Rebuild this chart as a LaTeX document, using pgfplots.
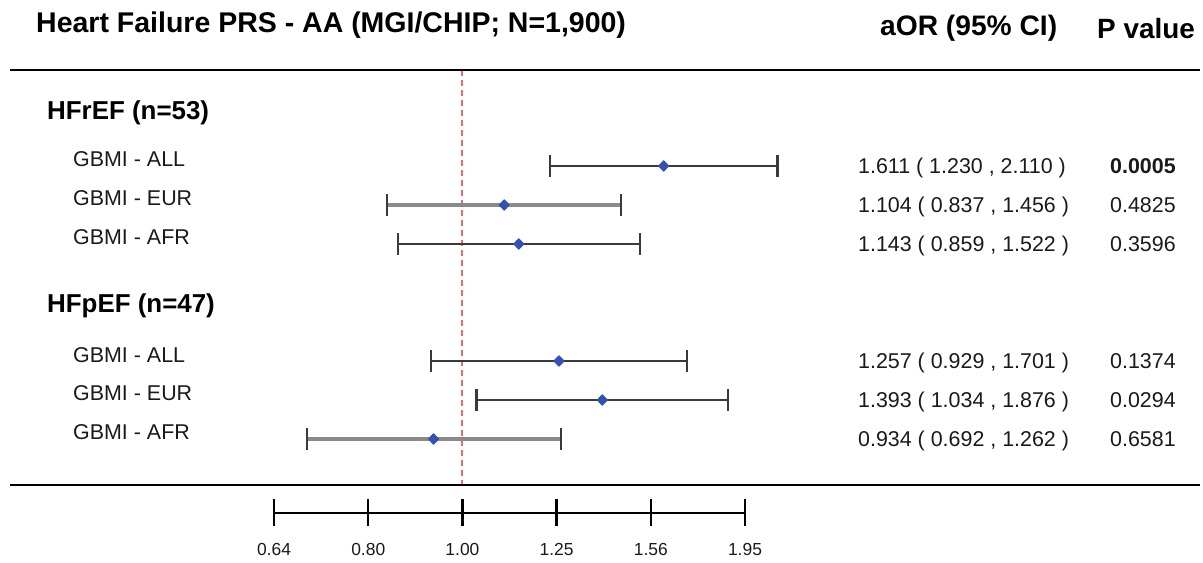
\documentclass[border=0pt]{standalone}
\usepackage{fontspec}
\setmainfont{Liberation Sans}
\usepackage{graphicx}
\usepackage{pgfplots}
\pgfplotsset{compat=1.18}
\definecolor{ptblue}{HTML}{3450B0}
\definecolor{cidark}{HTML}{3A3A3A}
\definecolor{cigray}{HTML}{8A8A8A}
\definecolor{refred}{HTML}{EE6A6A}
\definecolor{txt}{HTML}{1A1A1A}
\begin{document}
\begin{tikzpicture}[x=1bp,y=1bp]
\useasboundingbox (0,0) rectangle (1203,563);
\begin{axis}[at={(0,0)}, anchor=south west, scale only axis,
  width=1203bp, height=563bp, xmode=log, xmin=0.3344, xmax=5.781,
  ymin=0, ymax=563, hide axis, clip=false]
\addplot[refred, line width=2bp, dash pattern=on 6bp off 4bp] coordinates {(1,493) (1,78)};
% HFrEF
\addplot[cidark, line width=1.8bp, mark=|, mark size=11bp, mark options={solid, line width=2.2bp, draw=cidark}] coordinates {(1.230,397) (2.110,397)};
\addplot[cigray, line width=3.4bp, mark=|, mark size=11bp, mark options={solid, line width=2.2bp, draw=cidark}] coordinates {(0.837,358) (1.456,358)};
\addplot[cidark, line width=1.8bp, mark=|, mark size=11bp, mark options={solid, line width=2.2bp, draw=cidark}] coordinates {(0.859,319) (1.522,319)};
% HFpEF
\addplot[cidark, line width=2bp, mark=|, mark size=11bp, mark options={solid, line width=2.2bp, draw=cidark}] coordinates {(0.929,202) (1.701,202)};
\addplot[cidark, line width=2bp, mark=|, mark size=11bp, mark options={solid, line width=2.2bp, draw=cidark}] coordinates {(1.034,163) (1.876,163)};
\addplot[cigray, line width=3.4bp, mark=|, mark size=11bp, mark options={solid, line width=2.2bp, draw=cidark}] coordinates {(0.692,124) (1.262,124)};
% point estimates
\addplot[only marks, mark=diamond*, mark size=5.2bp, mark options={fill=ptblue, draw=ptblue, xscale=1.3, line join=round, line width=1bp}] coordinates {(1.611,397) (1.104,358) (1.143,319) (1.257,202) (1.393,163) (0.934,124)};
\end{axis}

\begin{axis}[at={(274bp,50bp)}, anchor=south west, scale only axis,
  width=471bp, height=10bp, xmode=log, xmin=0.64, xmax=1.953125,
  ymin=0, ymax=1, axis x line=bottom, axis y line=none,
  x axis line style={-, line width=2.6bp},
  xtick={0.64,0.8,1,1.25,1.5625,1.953125},
  xticklabels={0.64,0.80,1.00,1.25,1.56,1.95},
  minor xtick={}, major tick length=27bp, tick align=center,
  major tick style={line width=2.4bp, black},
  xticklabel style={font=\fontsize{17.5}{18}\selectfont, text=txt, yshift=-13bp}]
\addplot[draw=none] coordinates {(1,0.5)};
\end{axis}

% rules
\draw[line width=2.4bp] (10,493) -- (1200,493);
\draw[line width=2.4bp] (10,78) -- (1200,78);

% headers
\begin{scope}[every node/.style={inner sep=0pt, anchor=base west, text=black}]
\node[font=\bfseries\fontsize{28.6}{30}\selectfont] at (36,530) {Heart Failure PRS - AA (MGI/CHIP; N=1,900)};
\node[font=\bfseries\fontsize{28.3}{30}\selectfont] at (880,527) {aOR (95\% CI)};
\node[font=\bfseries\fontsize{28}{30}\selectfont] at (1097,524) {P value};
\node[font=\bfseries\fontsize{26}{28}\selectfont] at (47,443) {HFrEF (n=53)};
\node[font=\bfseries\fontsize{26}{28}\selectfont] at (47,250) {HFpEF (n=47)};
\end{scope}
\begin{scope}[every node/.style={inner sep=0pt, anchor=base west, text=txt, font=\fontsize{21.5}{23}\selectfont}]
\node at (73,396) {GBMI - ALL};
\node at (73,357) {GBMI - EUR};
\node at (73,318) {GBMI - AFR};
\node at (73,200.5) {GBMI - ALL};
\node at (73,162.5) {GBMI - EUR};
\node at (73,123.5) {GBMI - AFR};
\node at (858,389) {1.611 ( 1.230 , 2.110 )};
\node at (858,350) {1.104 ( 0.837 , 1.456 )};
\node at (858,311) {1.143 ( 0.859 , 1.522 )};
\node at (858,194) {1.257 ( 0.929 , 1.701 )};
\node at (858,155) {1.393 ( 1.034 , 1.876 )};
\node at (858,116) {0.934 ( 0.692 , 1.262 )};
\node[font=\bfseries\fontsize{21.5}{23}\selectfont] at (1110,389) {0.0005};
\node at (1110,350) {0.4825};
\node at (1110,311) {0.3596};
\node at (1110,194) {0.1374};
\node at (1110,155) {0.0294};
\node at (1110,116) {0.6581};
\end{scope}
\end{tikzpicture}
\end{document}
